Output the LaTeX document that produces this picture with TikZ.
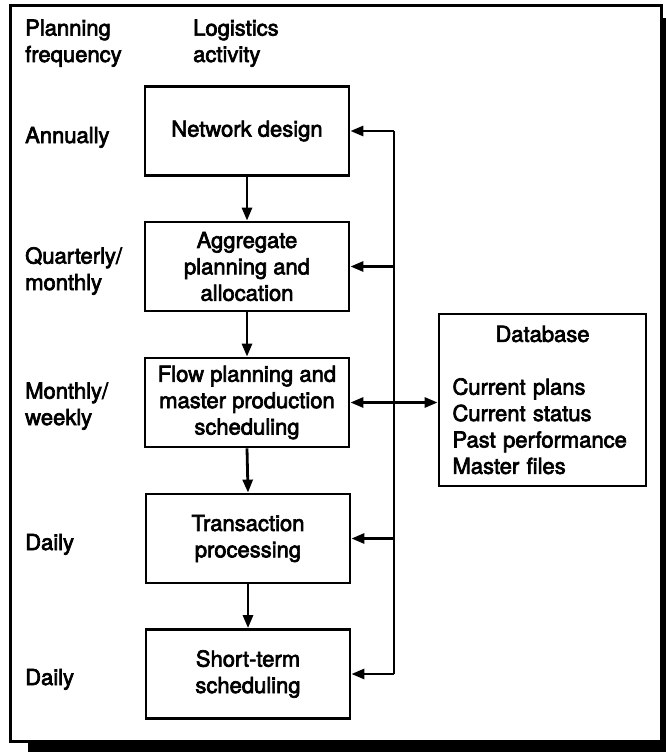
\documentclass[tikz,border=0pt]{standalone}
\usepackage{fontspec}
\setmainfont{TeX Gyre Heros}[FakeBold=3]
\usetikzlibrary{arrows.meta}
\begin{document}
\begin{tikzpicture}[x=1pt,y=-1pt,
  every node/.style={font=\fontsize{22}{26.4}\selectfont, inner sep=0pt},
  activity/.style={draw, line width=2.8pt, minimum width=204pt, minimum height=89pt, align=center},
  freqlabel/.style={anchor=base west, align=left},
  link/.style={line width=2.8pt},
  arrowhd/.style={-{Triangle[length=13pt,width=10pt]}},
  dblarrow/.style={{Triangle[length=13pt,width=10pt]}-{Triangle[length=13pt,width=10pt]}}
]
\useasboundingbox (0,0) rectangle (666,752);

% drop shadow and outer frame
\fill[black] (28,18) rectangle (666,752);
\filldraw[fill=white, line width=3pt] (10,6) rectangle (661,741);

% column headings (anchored at the baseline of the last line)
\node[freqlabel] (hfreq) at (25,62) {Planning\\frequency};
\node[freqlabel] (hact) at (193,62) {Logistics\\activity};

% planning frequencies
\node[freqlabel] (fa) at (25,143) {Annually};
\node[freqlabel] (fq) at (25,290) {Quarterly/\\monthly};
\node[freqlabel] (fm) at (25,425) {Monthly/\\weekly};
\node[freqlabel] (fd1) at (25,550) {Daily};
\node[freqlabel] (fd2) at (25,685) {Daily};

% logistics activities
\node[activity] (nd) at (247,131) {Network design};
\node[activity] (ag) at (247,266.5) {Aggregate\\planning and\\allocation};
\node[activity] (fp) at (247,402.5) {Flow planning and\\master production\\scheduling};
\node[activity] (tr) at (248,538.5) {Transaction\\processing};
\node[activity] (st) at (248,674) {Short-term\\scheduling};

% database
\node[draw, line width=2.8pt, minimum width=207pt, minimum height=172pt,
      text width=180pt, align=left] (db) at (542.5,400)
  {\makebox[\linewidth][c]{Database}\\[26.4pt]
   Current plans\\Current status\\Past performance\\Master files};

% downward flow between activities
\draw[link,arrowhd] (nd.south) -- (ag.north);
\draw[link,arrowhd] (ag.south) -- (fp.north);
\draw[link,arrowhd] (fp.south) -- (tr.north);
\draw[link,arrowhd] (tr.south) -- (st.north);

% shared information bus
\coordinate (bus) at (394,0);
\draw[link] (nd.east -| bus) -- (st.east -| bus);
\foreach \n in {nd,ag,tr,st}
  \draw[link,arrowhd] (\n.east -| bus) -- (\n.east);
\draw[link,dblarrow] (fp.east) -- (fp.east -| db.west);
\end{tikzpicture}
\end{document}
